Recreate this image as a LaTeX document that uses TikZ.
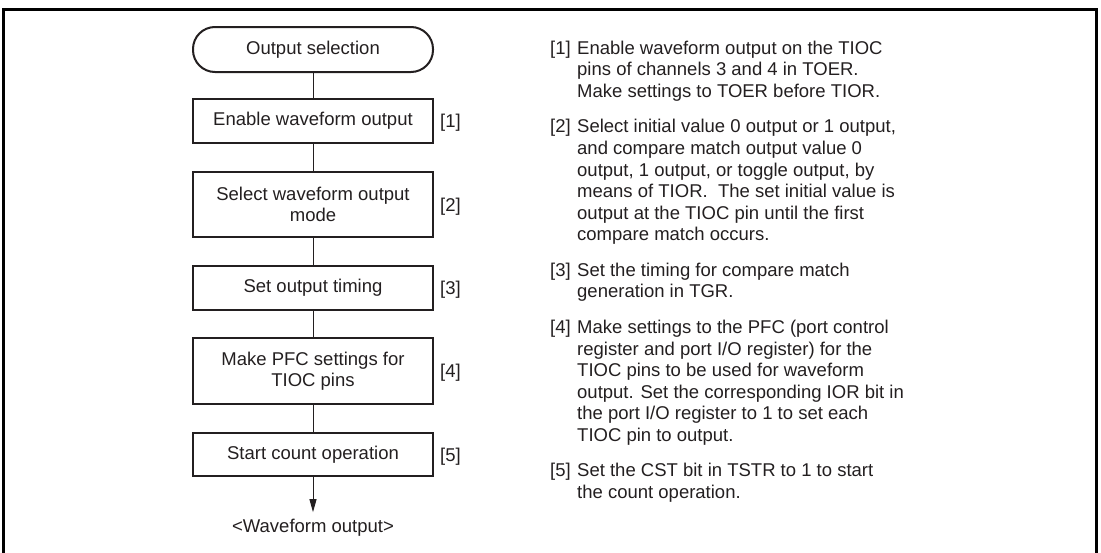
\documentclass[tikz,border=0pt]{standalone}
\usepackage{fontspec}
\setmainfont{Liberation Sans}
\usetikzlibrary{arrows.meta}
\definecolor{ink}{HTML}{231F20}
\begin{document}
\begin{tikzpicture}[x=1pt,y=-1pt,
  every node/.style={text=ink},
  txt/.style={font=\fontsize{18.5}{21.5}\selectfont, inner sep=0pt},
  box/.style={txt, draw=ink, line width=2pt, minimum width=240pt, align=center},
  term/.style={box, rounded corners=22pt},
  link/.style={draw=ink, line width=1pt},
  tag/.style={txt, anchor=base west},
  para/.style={txt, anchor=north west, align=left, font=\fontsize{18.5}{21.6}\selectfont}
]
\useasboundingbox (0,0) rectangle (1101,552);
\draw[line width=2.5pt] (3.5,560) -- (3.5,9.5) -- (1096.5,9.5) -- (1096.5,560);

\node[term, minimum height=45pt] (t0) at (313,49.5) {Output selection};
\node[box, minimum height=44pt] (b1) at (313,121) {Enable waveform output};
\node[box, minimum height=65pt] (b2) at (313,204.5) {Select waveform output\\mode};
\node[box, minimum height=44pt] (b3) at (313,288) {Set output timing};
\node[box, minimum height=66pt] (b4) at (313,371) {Make PFC settings for\\TIOC pins};
\node[box, minimum height=43pt] (b5) at (313,454.5) {Start count operation};
\node[txt] (out) at (313,528) {<Waveform output>};

\node[tag] (l1) at (440,127.5) {[1]};
\node[tag] (l2) at (440,211) {[2]};
\node[tag] (l3) at (440,294.5) {[3]};
\node[tag] (l4) at (440,377.5) {[4]};
\node[tag] (l5) at (440,461) {[5]};

\draw[link] (t0) -- (b1);
\draw[link] (b1) -- (b2);
\draw[link] (b2) -- (b3);
\draw[link] (b3) -- (b4);
\draw[link] (b4) -- (b5);
\draw[link, -{Triangle[width=7pt,length=13pt]}] (b5) -- ([yshift=7pt]out.north);

\node[tag] (n1) at (550,54) {[1]};
\node[para] (p1) at (577,40.5) {Enable waveform output on the TIOC\\pins of channels 3 and 4 in TOER.\\Make settings to TOER before TIOR.};
\node[tag] (n2) at (550,132.7) {[2]};
\node[para] (p2) at (577,119.2) {Select initial value 0 output or 1 output,\\and compare match output value 0\\output, 1 output, or toggle output, by\\means of TIOR.\ \ The set initial value is\\output at the TIOC pin until the first\\compare match occurs.};
\node[tag] (n3) at (550,276.2) {[3]};
\node[para] (p3) at (577,262.7) {Set the timing for compare match\\generation in TGR.};
\node[tag] (n4) at (550,333.3) {[4]};
\node[para] (p4) at (577,319.8) {Make settings to the PFC (port control\\register and port I/O register) for the\\TIOC pins to be used for waveform\\output. Set the corresponding IOR bit in\\the port I/O register to 1 to set each\\TIOC pin to output.};
\node[tag] (n5) at (550,476.8) {[5]};
\node[para] (p5) at (577,463.3) {Set the CST bit in TSTR to 1 to start\\the count operation.};
\end{tikzpicture}
\end{document}
